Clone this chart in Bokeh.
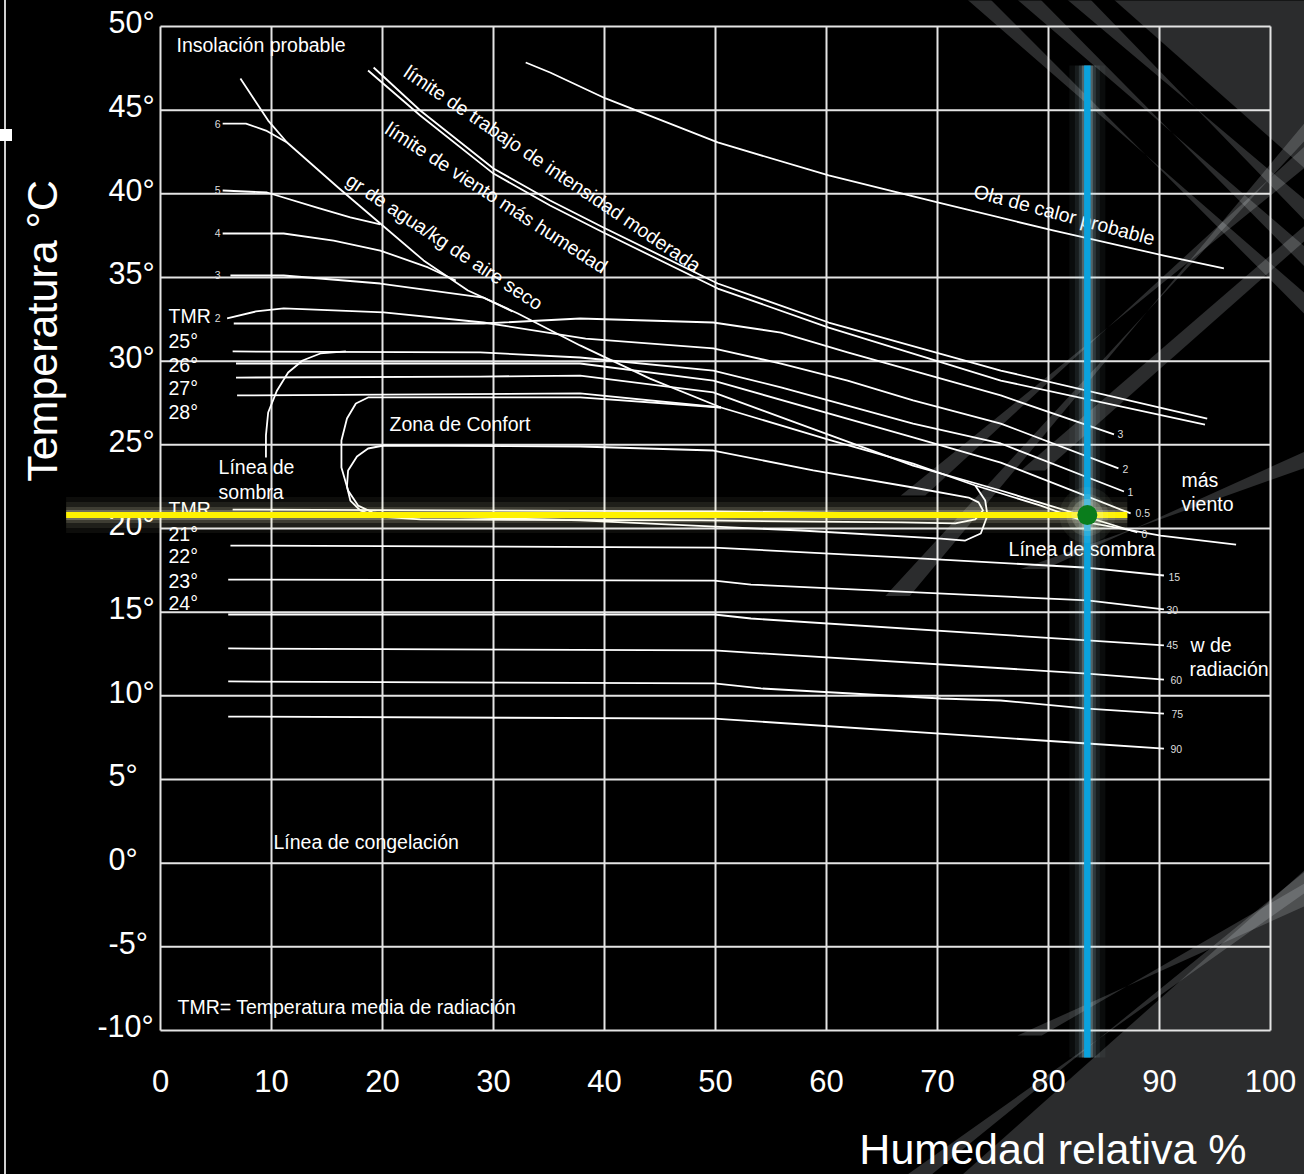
import math
from bokeh.plotting import figure
from bokeh.models import Range1d, GlobalInlineStyleSheet
from bokeh.core.properties import value
from bokeh.embed import file_html
from bokeh.resources import INLINE

# ---------------- axis values ----------------
HUM_TICKS = [0, 10, 20, 30, 40, 50, 60, 70, 80, 90, 100]
HUM_TICK_LABELS = ["0", "10", "20", "30", "40", "50", "60", "70", "80", "90", "100"]
TEMP_TICKS = [50, 45, 40, 35, 30, 25, 20, 15, 10, 5, 0, -5, -10]
TEMP_TICK_LABELS = ["50°", "45°", "40°", "35°", "30°", "25°", "20°", "15°", "10°", "5°", "0°", "-5°", "-10°"]

# ---------------- curves (humidity %, temperature °C) ----------------
OLA_HUM = [32.9, 35.1, 40.1, 50.2, 60.2, 70.1, 80.4, 90.4, 95.8]
OLA_TEMP = [47.85, 47.25, 45.70, 43.07, 41.10, 39.48, 37.81, 36.31, 35.54]

TRABAJO_HUM = [19.2, 23.4, 30.0, 35.1, 39.9, 50.2, 60.2, 75.7, 94.3]
TRABAJO_TEMP = [47.55, 44.98, 41.51, 39.60, 37.99, 34.64, 32.31, 29.44, 26.57]

VIENTO_HUM = [18.7, 23.4, 30.0, 35.1, 39.9, 50.2, 60.2, 75.7, 94.1]
VIENTO_TEMP = [47.37, 44.68, 41.21, 39.30, 37.69, 34.34, 32.01, 28.84, 26.21]

# gr de agua / línea de sombra (continues past the comfort zone)
GR_HUM = [7.2, 9.7, 11.4, 16.0, 19.8, 23.7, 27.7, 32.2, 37.8, 44.1, 50.5, 60.4, 67.8, 73.4, 79.3, 83.5, 90.1, 96.9]
GR_TEMP = [46.89, 44.38, 43.07, 40.38, 38.23, 36.02, 34.22, 32.85, 30.94, 28.96, 27.23, 25.26, 23.88, 22.57,
           21.37, 20.36, 19.58, 19.04]

G6_HUM = [5.6, 7.7, 9.5, 11.4]
G6_TEMP = [44.20, 44.20, 43.78, 43.07]
G5_HUM = [5.6, 9.6, 14.1, 17.1, 19.8]
G5_TEMP = [40.20, 40.08, 39.18, 38.59, 38.17]
G4_HUM = [5.6, 11.1, 15.6, 19.8, 24.1, 26.6]
G4_TEMP = [37.63, 37.63, 37.21, 36.61, 35.60, 34.82]
G3_HUM = [6.3, 11.1, 19.8, 29.1, 31.7]
G3_TEMP = [35.12, 35.12, 34.64, 33.80, 32.97]
G2_HUM = [6.0, 8.6, 11.1, 20.1, 29.1, 38.3, 49.8, 55.9, 61.9, 67.8, 75.7, 86.3]
G2_TEMP = [32.55, 32.97, 33.15, 32.91, 32.31, 31.35, 30.76, 29.86, 28.84, 27.65, 26.27, 23.59]

W3_HUM = [6.6, 29.1, 37.8, 49.8, 55.9, 61.9, 75.7, 85.9]
W3_TEMP = [32.25, 32.25, 32.55, 32.31, 31.71, 30.52, 27.95, 25.62]
W1_HUM = [6.5, 28.8, 37.8, 49.8, 55.9, 67.8, 75.7, 86.8]
W1_TEMP = [30.58, 30.52, 30.22, 29.44, 28.43, 26.27, 25.08, 22.21]
W05_HUM = [6.8, 28.8, 37.8, 49.8, 67.8, 75.7, 87.4]
W05_TEMP = [29.86, 29.86, 29.86, 28.84, 25.44, 23.94, 20.90]
W0_HUM = [6.8, 28.8, 37.8, 49.8, 67.8, 75.7, 88.0]
W0_TEMP = [29.02, 29.08, 29.14, 28.13, 23.76, 22.27, 19.76]
T28_HUM = [6.9, 37.8, 50.5]
T28_TEMP = [27.95, 28.07, 27.23]

CONF_OUT_HUM = [50.5, 37.8, 18.7, 17.6, 16.8, 16.3, 16.3, 16.9, 17.8, 19.1, 21.6, 37.8, 57.7, 70.3, 72.5, 73.9, 74.5, 74.3, 73.4]
CONF_OUT_TEMP = [27.23, 27.83, 27.83, 27.47, 26.57, 25.26, 23.65, 22.27, 21.37, 20.96, 20.78, 20.48, 19.88, 19.40, 19.28, 19.70, 20.78, 21.67, 22.57]
CONF_IN_HUM = [66.7, 71.6, 73.4, 74.1, 73.7, 72.8, 67.8, 58.8, 49.8, 37.8, 20.1, 18.7, 17.7, 16.9, 16.8, 17.1, 18.0, 19.4, 23.4, 48.7, 66.7]
CONF_IN_TEMP = [20.36, 20.30, 20.54, 21.08, 21.56, 21.85, 22.45, 23.47, 24.66, 24.90, 24.96, 24.78, 24.30, 23.47, 22.51, 21.67, 21.08, 20.72, 20.54, 20.48, 20.36]

# línea de sombra (left hook, joins the 26° TMR line)
SOMBRA_HUM = [9.5, 9.5, 9.7, 10.5, 11.5, 12.8, 14.4, 16.7]
SOMBRA_TEMP = [24.24, 25.56, 26.93, 28.25, 29.32, 30.04, 30.46, 30.58]

TMR21_HUM = [6.5, 49.9, 72.1]
TMR21_TEMP = [21.13, 21.02, 20.84]

R15_HUM = [6.3, 49.9, 66.7, 83.2, 90.4]
R15_TEMP = [18.98, 18.86, 18.27, 17.67, 17.19]
R30_HUM = [6.1, 49.9, 53.2, 83.5, 90.4]
R30_TEMP = [16.95, 16.89, 16.65, 15.70, 15.16]
R45_HUM = [6.1, 49.9, 53.2, 83.5, 90.4]
R45_TEMP = [14.86, 14.86, 14.62, 13.31, 13.01]
R60_HUM = [6.1, 49.9, 83.5, 90.4]
R60_TEMP = [12.83, 12.71, 11.33, 10.97]
R75_HUM = [6.1, 49.9, 54.1, 70.3, 75.7, 83.5, 90.4]
R75_TEMP = [10.86, 10.74, 10.44, 9.84, 9.72, 9.24, 8.94]
R90_HUM = [6.1, 49.9, 83.5, 90.4]
R90_TEMP = [8.76, 8.64, 7.15, 6.85]

# highlighted reading
POINT_HUM = 83.5
POINT_TEMP = 20.8
YELLOW_HUM_SPAN = [-8.5, 87.1]
BLUE_TEMP_SPAN = [47.67, -11.61]

# ---------------- texts ----------------
NOTE_TEXT = ["Insolación probable", "Zona de Confort", "Línea de", "sombra", "Línea de congelación",
             "TMR= Temperatura media de radiación", "más", "viento", "Línea de sombra", "w de", "radiación",
             "TMR", "25°", "26°", "27°", "28°", "TMR", "21°", "22°", "23°", "24°"]
NOTE_HUM = [1.44, 20.63, 5.23, 5.23, 10.18, 1.53, 91.98, 91.98, 76.4, 92.79, 92.7,
            0.72, 0.72, 0.72, 0.72, 0.72, 0.72, 0.72, 0.72, 0.72, 0.72]
NOTE_TEMP = [48.92, 26.27, 23.65, 22.21, 1.29, -8.57, 22.87, 21.49, 18.80, 13.01, 11.63,
             32.67, 31.23, 29.80, 28.37, 26.99, 21.19, 19.70, 18.33, 16.89, 15.52]

ROT_TEXT = ["límite de trabajo de intensidad moderada", "límite de viento más humedad",
            "gr de agua/kg de aire seco", "Ola de calor probable"]
ROT_HUM = [35.32, 30.27, 25.59, 81.44]
ROT_TEMP = [41.51, 39.78, 37.15, 38.76]
ROT_ANGLE_DEG = [-34, -33, -33.5, -15]

LEFT_NUM_TEXT = ["6", "5", "4", "3", "2"]
LEFT_NUM_TEMP = [44.20, 40.20, 37.63, 35.12, 32.55]
RIGHT_NUM_TEXT = ["3", "2", "1", "0.5", "0", "15", "30", "45", "60", "75", "90"]
RIGHT_NUM_HUM = [86.22, 86.67, 87.12, 87.84, 88.38, 90.81, 90.63, 90.63, 90.99, 91.08, 90.99]
RIGHT_NUM_TEMP = [25.62, 23.53, 22.21, 20.90, 19.70, 17.13, 15.10, 13.01, 10.97, 8.94, 6.85]

# ---------------- decorative background bands (data units) ----------------
BAND_HUM = [
    [72.7, 74.8, 103.1, 103.1],
    [77.2, 79.3, 103.1, 103.1],
    [81.7, 83.8, 103.1, 103.1],
    [85.9, 103.1, 103.1],
    [66.7, 68.9, 103.1, 103.1],
    [77.5, 79.7, 103.1, 103.1],
    [65.3, 67.5, 103.1, 103.1],
    [77.5, 79.7, 103.1, 103.1],
    [77.2, 79.4, 103.1, 103.1],
    [67.1, 69.3, 103.1, 103.1],
    [72.1, 103.1, 103.1],
]
BAND_TEMP = [
    [51.6, 51.6, 32.80, 34.05],
    [51.6, 51.6, 35.63, 36.83],
    [51.6, 51.6, 38.39, 39.64],
    [51.6, 51.6, 41.51],
    [21.97, 21.97, 42.85, 41.57],
    [23.47, 23.47, 37.20, 38.11],
    [15.97, 15.97, 44.25, 43.19],
    [17.58, 17.58, 24.60, 23.62],
    [-10.30, -10.30, -1.20, -2.57],
    [-18.7, -18.7, -0.50, -1.77],
    [-18.7, -18.7, -0.40],
]

X_RANGE = (-14.414, 103.063)
Y_RANGE = (-18.607, 51.554)

p = figure(width=1304, height=1174, x_range=Range1d(*X_RANGE), y_range=Range1d(*Y_RANGE),
           output_backend="svg", toolbar_location=None, x_axis_type=None, y_axis_type=None,
           min_border=0, background_fill_color="#000000", border_fill_color="#000000",
           outline_line_color=None)

p.stylesheets = [GlobalInlineStyleSheet(css=(
    "html,body{background:#000 !important;overflow:hidden;}"
    "body::before{content:'';position:fixed;left:4px;top:0;bottom:0;width:2px;background:#cfcfcf;z-index:50;}"
    "body::after{content:'';position:fixed;left:0;top:129px;width:12px;height:12px;background:#fff;z-index:51;}"))]

FONT = value("Liberation Sans")

# background bands
p.patches(BAND_HUM, BAND_TEMP, fill_color="#f0f4fa", fill_alpha=0.18, line_color=None)

# grid
p.segment(x0=HUM_TICKS, y0=[-10] * len(HUM_TICKS), x1=HUM_TICKS, y1=[50] * len(HUM_TICKS),
          line_color="#e4e4e4", line_width=2)
p.segment(x0=[0] * len(TEMP_TICKS), y0=TEMP_TICKS, x1=[100] * len(TEMP_TICKS), y1=TEMP_TICKS,
          line_color="#e4e4e4", line_width=2)

# white curves
curves = [
    (OLA_HUM, OLA_TEMP), (TRABAJO_HUM, TRABAJO_TEMP), (VIENTO_HUM, VIENTO_TEMP), (GR_HUM, GR_TEMP),
    (G6_HUM, G6_TEMP), (G5_HUM, G5_TEMP), (G4_HUM, G4_TEMP), (G3_HUM, G3_TEMP), (G2_HUM, G2_TEMP),
    (W3_HUM, W3_TEMP), (W1_HUM, W1_TEMP), (W05_HUM, W05_TEMP), (W0_HUM, W0_TEMP), (T28_HUM, T28_TEMP),
    (CONF_OUT_HUM, CONF_OUT_TEMP), (CONF_IN_HUM, CONF_IN_TEMP), (SOMBRA_HUM, SOMBRA_TEMP),
    (TMR21_HUM, TMR21_TEMP), (R15_HUM, R15_TEMP), (R30_HUM, R30_TEMP), (R45_HUM, R45_TEMP),
    (R60_HUM, R60_TEMP), (R75_HUM, R75_TEMP), (R90_HUM, R90_TEMP),
]
p.multi_line([c[0] for c in curves], [c[1] for c in curves], line_color="#ffffff", line_width=1.8,
             line_join="round")

# tick labels
y_label_x = [-5.68 if t == -10 else -4.68 for t in TEMP_TICKS]
p.text(x=y_label_x, y=[t + 0.24 for t in TEMP_TICKS], text=TEMP_TICK_LABELS, text_font=FONT,
       text_font_size=value("30.5px"), text_color="#ffffff", text_align="left", text_baseline="middle")
p.text(x=HUM_TICKS, y=[-12.99] * len(HUM_TICKS), text=HUM_TICK_LABELS, text_font=FONT,
       text_font_size=value("31px"), text_color="#ffffff", text_align="center", text_baseline="middle")

# axis titles
p.text(x=[-10.72], y=[31.8], text=["Temperatura °C"], angle=math.pi / 2, text_font=FONT,
       text_font_size=value("43px"), text_color="#ffffff", text_align="center",
       text_baseline="alphabetic")
p.text(x=[80.4], y=[-17.1], text=["Humedad relativa %"], text_font=FONT,
       text_font_size=value("43px"), text_color="#ffffff", text_align="center",
       text_baseline="alphabetic")

# notes
p.text(x=NOTE_HUM, y=NOTE_TEMP, text=NOTE_TEXT, text_font=FONT, text_font_size=value("19.5px"),
       text_color="#ffffff", text_align="left", text_baseline="middle")
p.text(x=ROT_HUM, y=ROT_TEMP, text=ROT_TEXT, angle=[math.radians(a) for a in ROT_ANGLE_DEG],
       text_font=FONT, text_font_size=value("19.5px"), text_color="#ffffff",
       text_align="center", text_baseline="middle")
p.text(x=[5.41] * len(LEFT_NUM_TEXT), y=LEFT_NUM_TEMP, text=LEFT_NUM_TEXT, text_font=FONT,
       text_font_size=value("10.5px"), text_color="#dddddd", text_align="right", text_baseline="middle")
p.text(x=RIGHT_NUM_HUM, y=RIGHT_NUM_TEMP, text=RIGHT_NUM_TEXT, text_font=FONT,
       text_font_size=value("10.5px"), text_color="#dddddd", text_align="left", text_baseline="middle")

# glows
for w, a in [(36, 0.05), (26, 0.08), (16, 0.14), (10, 0.25)]:
    p.line(YELLOW_HUM_SPAN, [POINT_TEMP, POINT_TEMP], line_color="#fffbd0", line_alpha=a, line_width=w)
for w, a in [(36, 0.05), (25, 0.08), (17, 0.14), (11, 0.25)]:
    p.line([POINT_HUM, POINT_HUM], BLUE_TEMP_SPAN, line_color="#bfeaf5", line_alpha=a, line_width=w)

p.line(YELLOW_HUM_SPAN, [POINT_TEMP, POINT_TEMP], line_color="#fff200", line_width=6)
p.line([POINT_HUM, POINT_HUM], BLUE_TEMP_SPAN, line_color="#0aa2dd", line_width=6.5)

for s, a in [(56, 0.06), (42, 0.1), (32, 0.18)]:
    p.scatter([POINT_HUM], [POINT_TEMP], size=s, fill_color="#f6f8d8", fill_alpha=a, line_color=None)
p.scatter([POINT_HUM], [POINT_TEMP], size=20, fill_color="#0a7d1c", line_color=None)

open("out.html", "w").write(file_html(p, INLINE))
